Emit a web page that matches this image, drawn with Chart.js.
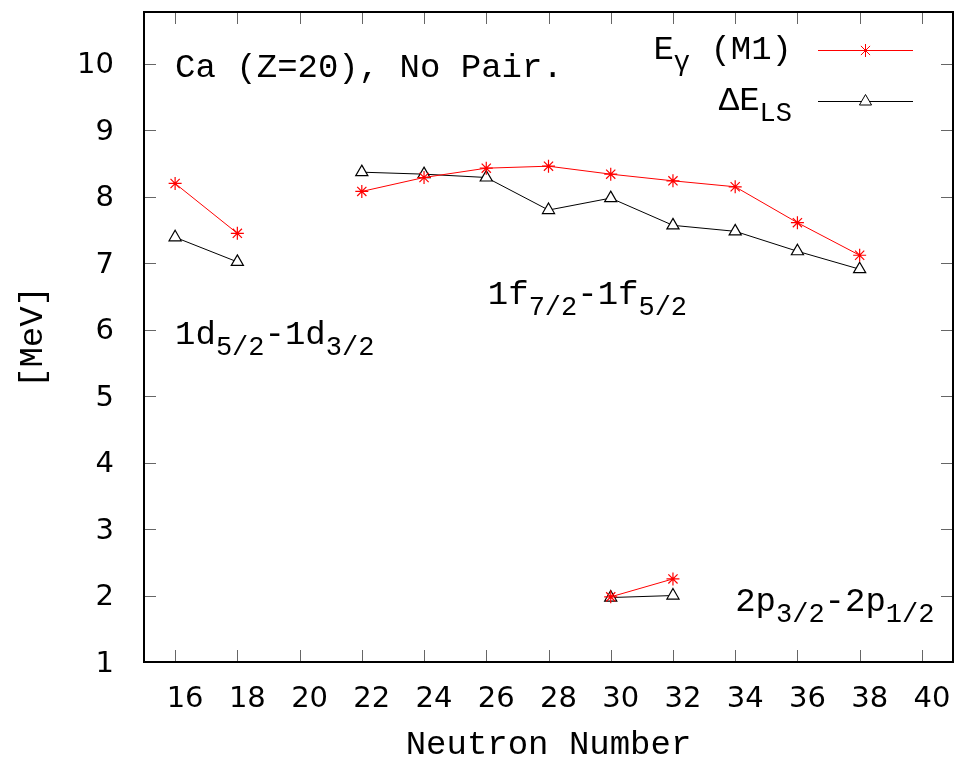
<!DOCTYPE html>
<html>
<head>
<meta charset="utf-8">
<title>Ca (Z=20) spin-orbit splitting</title>
<script src="https://cdn.jsdelivr.net/npm/chart.js@4.4.1/dist/chart.umd.min.js"></script>
<style>
  html, body { margin: 0; padding: 0; background: #fff; }
  #wrap { width: 957px; height: 762px; }
</style>
</head>
<body>
<div id="wrap"><canvas id="soChart" width="957" height="762"></canvas></div>
<script>
// neutron numbers per shell group
var n1d = [16, 18];
var n1f = [22, 24, 26, 28, 30, 32, 34, 36, 38];
var n2p = [30, 32];

// E_gamma (M1) [MeV]
var egamma1d = [8.20, 7.45];
var egamma1f = [8.08, 8.29, 8.43, 8.46, 8.34, 8.24, 8.15, 7.61, 7.12];
var egamma2p = [1.98, 2.25];

// Delta E_LS [MeV]
var dels1d = [7.39, 7.02];
var dels1f = [8.37, 8.34, 8.29, 7.80, 7.98, 7.57, 7.48, 7.18, 6.91];
var dels2p = [1.97, 2.00];

var xTicks = [16, 18, 20, 22, 24, 26, 28, 30, 32, 34, 36, 38, 40];
var yTicks = [1, 2, 3, 4, 5, 6, 7, 8, 9, 10];

var MONO = '"Liberation Mono", "DejaVu Sans Mono", monospace';
var SANS = '"DejaVu Sans", sans-serif';
var RED = '#ff0000';
var FS = 34; // text size used by gnuplot labels

function pts(xs, ys) {
    return xs.map(function (x, i) { return { x: x, y: ys[i] }; });
}

function redSet(xs, ys) {
    return { label: 'E_gamma (M1)', data: pts(xs, ys), borderColor: RED, backgroundColor: RED,
        borderWidth: 1, pointStyle: 'star', pointRadius: 6.5, pointBorderWidth: 1.2, pointBorderColor: RED };
}
function blackSet(xs, ys) {
    return { label: 'dE_LS', data: pts(xs, ys), borderColor: '#000', backgroundColor: '#fff',
        borderWidth: 1, pointStyle: 'triangle', pointRadius: 7, pointBorderWidth: 1.2, pointBorderColor: '#000' };
}

// draw a string made of normal + subscript pieces
function drawRich(ctx, x, y, parts, size, align) {
    var subSize = Math.round(size * 0.8);
    var w = 0;
    parts.forEach(function (p) {
        ctx.font = (p.sub ? subSize : size) + 'px ' + MONO;
        p.w = ctx.measureText(p.t).width;
        w += p.w;
    });
    var cx = align === 'right' ? x - w : x;
    ctx.save();
    ctx.fillStyle = '#000';
    ctx.textBaseline = 'alphabetic';
    ctx.textAlign = 'left';
    parts.forEach(function (p) {
        ctx.font = (p.sub ? subSize : size) + 'px ' + MONO;
        ctx.fillText(p.t, cx, y + (p.sub ? size * 0.31 : 0));
        cx += p.w;
    });
    ctx.restore();
}

var labels = [
    { x: 16.0, y: 9.795, parts: [{ t: 'Ca (Z=20), No Pair.' }] },
    { x: 16.0, y: 5.785, parts: [{ t: '1d' }, { t: '5/2', sub: true }, { t: '-1d' }, { t: '3/2', sub: true }] },
    { x: 26.05, y: 6.38, parts: [{ t: '1f' }, { t: '7/2', sub: true }, { t: '-1f' }, { t: '5/2', sub: true }] },
    { x: 34.0, y: 1.76, parts: [{ t: '2p' }, { t: '3/2', sub: true }, { t: '-2p' }, { t: '1/2', sub: true }] }
];

var framePlugin = {
    id: 'frame',
    afterDraw: function (chart) {
        var ctx = chart.ctx, a = chart.chartArea;
        var xs = chart.scales.x, ys = chart.scales.y;
        ctx.save();
        // inward ticks on all four sides
        ctx.strokeStyle = '#666';
        ctx.lineWidth = 1;
        ctx.beginPath();
        xTicks.forEach(function (v) {
            var px = Math.round(xs.getPixelForValue(v)) + 0.5;
            ctx.moveTo(px, a.bottom); ctx.lineTo(px, a.bottom - 12);
            ctx.moveTo(px, a.top); ctx.lineTo(px, a.top + 12);
        });
        yTicks.forEach(function (v) {
            var py = Math.round(ys.getPixelForValue(v)) + 0.5;
            ctx.moveTo(a.left, py); ctx.lineTo(a.left + 12, py);
            ctx.moveTo(a.right, py); ctx.lineTo(a.right - 12, py);
        });
        ctx.stroke();
        // border
        ctx.strokeStyle = '#000';
        ctx.lineWidth = 2;
        ctx.strokeRect(a.left, a.top, a.right - a.left, a.bottom - a.top);

        // annotations
        labels.forEach(function (l) {
            drawRich(ctx, xs.getPixelForValue(l.x), ys.getPixelForValue(l.y), l.parts, FS, 'left');
        });

        // key, gnuplot style: text right-aligned, then sample line
        var textR = a.right - 161, l0 = a.right - 135, l1 = a.right - 40;
        var rows = [
            { y: a.top + 38, parts: [{ t: 'E' }, { t: '\u03b3', sub: true }, { t: ' (M1)' }], color: RED, style: 'star', r: 6.5 },
            { y: a.top + 89, parts: [{ t: '\u0394E' }, { t: 'LS', sub: true }], color: '#000', style: 'triangle', r: 7 }
        ];
        rows.forEach(function (row) {
            drawRich(ctx, textR, row.y + 9, row.parts, FS, 'right');
            ctx.strokeStyle = row.color;
            ctx.lineWidth = 1;
            ctx.beginPath();
            ctx.moveTo(l0, row.y + 0.5); ctx.lineTo(l1, row.y + 0.5);
            ctx.stroke();
            ctx.fillStyle = '#fff';
            Chart.helpers.drawPoint(ctx, { pointStyle: row.style, radius: row.r, borderWidth: 1.2 }, (l0 + l1) / 2, row.y + 0.5);
        });
        ctx.restore();
    }
};

var datasets = [
    redSet(n1d, egamma1d), redSet(n1f, egamma1f), redSet(n2p, egamma2p),
    blackSet(n1d, dels1d), blackSet(n1f, dels1f), blackSet(n2p, dels2p)
];

new Chart(document.getElementById('soChart').getContext('2d'), {
    type: 'line',
    data: { datasets: datasets },
    plugins: [framePlugin],
    options: {
        responsive: false,
        animation: false,
        devicePixelRatio: 1,
        layout: { autoPadding: false, padding: { top: 12, right: 4, left: 0, bottom: 0 } },
        plugins: { legend: { display: false }, tooltip: { enabled: false } },
        elements: { line: { tension: 0 } },
        scales: {
            x: {
                type: 'linear', min: 15, max: 41,
                afterBuildTicks: function (s) { s.ticks = xTicks.map(function (v) { return { value: v }; }); },
                afterFit: function (s) { s.height = 100; s.paddingLeft = 0; s.paddingRight = 0; },
                grid: { display: false },
                border: { display: false },
                ticks: { color: '#000', padding: 12, labelOffset: 10, font: { family: SANS, size: 29 } },
                title: { display: true, text: 'Neutron Number', color: '#000', padding: { top: 0, bottom: 0 },
                    font: { family: MONO, size: FS, lineHeight: 1 } }
            },
            y: {
                type: 'linear', min: 1, max: 10.78,
                afterBuildTicks: function (s) { s.ticks = yTicks.map(function (v) { return { value: v }; }); },
                afterFit: function (s) { s.width = 144; s.paddingTop = 0; s.paddingBottom = 0; },
                grid: { display: false },
                border: { display: false },
                ticks: { color: '#000', padding: 22, labelOffset: 2, font: { family: SANS, size: 29 } },
                title: { display: true, text: '[MeV]', color: '#000', padding: { top: 16, bottom: 0 },
                    font: { family: MONO, size: FS, lineHeight: 1 } }
            }
        }
    }
});
</script>
</body>
</html>
